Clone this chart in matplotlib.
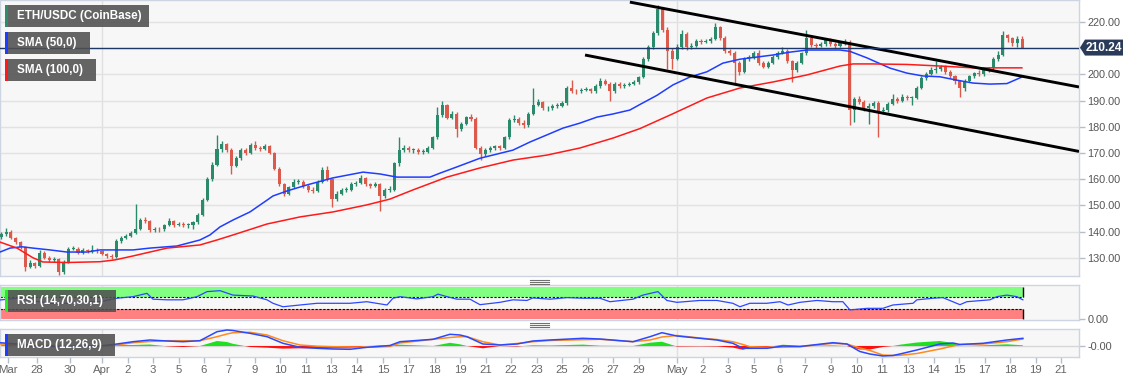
import matplotlib
matplotlib.use("Agg")
import matplotlib.pyplot as plt
from matplotlib.patches import Rectangle, Polygon
from matplotlib.lines import Line2D
import numpy as np
import pandas as pd

plt.rcParams['font.family'] = ['Liberation Sans', 'DejaVu Sans']

W, H = 1144, 383

# ---- price data, 6h candles from 2020-03-26 18:00 ----
first_open = 138.0
close = [
    139, 140, 137.5, 136, 134, 126.5, 128, 127,
    132, 130, 129, 129.5, 124.6, 128.5, 133.5, 133.5,
    132, 133, 132.5, 133, 132.5, 131.5, 130.8, 130.3,
    136.5, 137.5, 138.2, 139.5, 141, 144.5, 144, 140.6,
    141, 140.8, 142.5, 144, 142.5, 143, 142.5, 142.5,
    143.5, 146.5, 152, 160, 165.4, 171.5, 173.5, 171,
    165, 168, 171, 170, 173, 172, 171.5, 172.5,
    170, 164, 158, 154.5, 157, 159, 159, 157.5,
    156, 155.5, 159, 163.5, 160, 152.5, 154.5, 156,
    156, 158, 158.5, 160.5, 158, 157.5, 158, 153.5,
    156, 156, 166, 171, 172, 171, 171, 170.5,
    170.5, 172, 176, 184.5, 188.3, 183.5, 185, 179,
    181, 183.7, 183, 172, 169.5, 171, 172, 172.5,
    172, 176, 182.6, 183, 181.5, 180.5, 185, 188.5,
    189.5, 187, 187, 188, 188, 189, 194.8, 193.8,
    193.5, 194, 194.3, 193.5, 195.5, 197.5, 196.5, 193.5,
    196.5, 195.5, 196, 196.3, 197, 199, 206, 210.5,
    215.8, 225, 217, 209, 206, 210.5, 215.5, 210.5,
    211, 212.8, 212.5, 212.8, 213.5, 218, 214, 209,
    208.3, 204.5, 201, 206, 206.5, 208, 204.3, 203,
    204.5, 206.5, 208.3, 209, 205, 201.5, 204.3, 208,
    214, 211.3, 211, 211.5, 213, 211.5, 210.8, 212,
    212.5, 186.4, 190.5, 189.5, 187, 188, 189, 186,
    186.5, 188.8, 190.8, 190, 191.4, 191, 191, 195,
    198.8, 200.3, 201.5, 202, 202.8, 201, 199.3, 197.3,
    194.8, 197.5, 199.3, 200.5, 200, 201.5, 202.4, 206,
    207.5, 215, 213.8, 212, 213.5, 210.24,
]
high = [
    139.8, 141.4, 140.5, 138, 136.5, 134.5, 129, 128.5,
    132.8, 132.5, 130.6, 130.3, 130, 129, 134.2, 134.5,
    134, 133.6, 133.4, 135, 133.6, 133, 132, 131.3,
    137, 138.5, 139, 140.2, 150.5, 145.3, 145.6, 144.4,
    141.8, 141.7, 143, 145, 144.5, 143.8, 143.5, 143.2,
    144.2, 147, 153, 161, 166.5, 177, 174.5, 174,
    172, 169, 172, 172, 174, 174.5, 172.8, 173.5,
    173, 170.5, 164.5, 158.5, 157.5, 160, 160, 159.6,
    158.3, 157, 159.6, 164.5, 165, 160.5, 155.5, 156.8,
    157, 158.8, 159.3, 161.5, 161, 158.7, 159, 158.5,
    156.8, 157.3, 166.5, 176, 173, 172.7, 172, 171.8,
    171.5, 172.8, 176.5, 187.6, 190, 188.8, 186, 185.5,
    181.8, 184.3, 185, 183.8, 172.5, 171.8, 172.8, 173.2,
    173, 176.6, 183.5, 184.5, 183.8, 182.5, 185.6, 194.8,
    190.5, 190, 188, 188.8, 189, 189.8, 195.5, 197.8,
    194.6, 194.8, 195.3, 195, 196.2, 198.5, 198.3, 197,
    197.2, 197, 196.8, 197.2, 197.8, 199.5, 206.8, 211.2,
    216.5, 226.5, 225.5, 218, 210, 211.5, 217, 216,
    212, 213.5, 213.5, 213.6, 214.3, 219.5, 218.5, 214.5,
    209.8, 208.8, 205, 206.8, 207.3, 208.8, 209.5, 205,
    205.3, 207.3, 209, 210.5, 209.6, 205.5, 205, 208.6,
    217, 214.6, 212, 212.3, 214, 213.8, 212.3, 212.8,
    213.5, 213, 191.5, 191.8, 190.3, 189, 190, 189.8,
    187.4, 189.3, 192.5, 191.5, 192.5, 192, 191.8, 195.6,
    199.5, 201, 203, 205, 203.6, 203.4, 201.8, 199.8,
    197.8, 198.2, 199.8, 201, 201.5, 202, 203, 206.6,
    208.8, 216.5, 215.6, 214.2, 214.8, 214.5,
]
low = [
    137.3, 138.5, 137, 135.3, 133.5, 125, 126, 126.2,
    126.5, 129.5, 128.3, 128.5, 123.4, 124, 128, 132.8,
    131.5, 131.6, 131.8, 132, 131.8, 131, 130, 129.6,
    129.8, 135.8, 137, 137.8, 139, 140.5, 143.2, 140,
    139.8, 140, 140.3, 142, 141.8, 142, 141.8, 141.5,
    141, 143, 146, 151.5, 159.5, 165, 170.5, 170.2,
    162, 164.5, 167.5, 169.2, 169.5, 171.3, 170.6, 171,
    169.5, 163.5, 157.5, 153.5, 153.8, 156.5, 158, 156.8,
    155.3, 154.8, 155, 158.5, 159.3, 149.4, 151.8, 153.8,
    155.2, 155.6, 157.3, 158, 157.4, 156.8, 157, 148,
    152.8, 155, 155.5, 165, 170.5, 170.3, 170, 169.6,
    169.8, 170, 171.5, 175.5, 183.8, 182.8, 183, 176,
    178.3, 180.5, 182.2, 171.5, 167.3, 168.8, 170.3, 171.3,
    171.2, 171.5, 175.5, 181.8, 180.8, 179.5, 180, 184.5,
    187.8, 186.3, 186.2, 186.5, 187.3, 187.4, 188.5, 193,
    192.6, 192.8, 193.5, 192.8, 193, 195, 195.8, 190,
    193, 194.8, 195, 195.4, 195.8, 196.4, 198.5, 205.2,
    209.8, 215, 216.3, 202, 202, 205.4, 209.8, 209.5,
    209.6, 210.4, 211.7, 211.8, 212, 213, 213.2, 208.3,
    207.5, 196, 199.8, 200.4, 205.3, 205.8, 203.6, 202.3,
    202.5, 204, 205.9, 207.6, 204.5, 197, 200.8, 203.8,
    207.5, 210.6, 210.2, 210.3, 211, 210.8, 209.8, 210.3,
    211.3, 180.7, 182, 188.6, 186, 181, 187.3, 176,
    185, 185.8, 188.2, 189.2, 189.4, 190.2, 188.2, 190.5,
    194.6, 198, 199.7, 200.6, 201.2, 200.3, 198.6, 196.5,
    191.4, 193.8, 197, 198.8, 199.3, 199.5, 200.8, 201.8,
    205.3, 207, 212.5, 210.8, 210.5, 210,
]
last_price = 210.24

# x values below are days since 2020-04-01 00:00
sma50_days = [-5.32, -4.80, -4.17, -3.60, -2.71, -1.83, -0.78, -0.10, 1.62, 2.50,
              3.91, 5.11, 5.63, 6.16, 6.83, 7.72, 8.61, 8.92, 9.65, 10.69,
              12.05, 13.62, 14.50, 15.39, 17.11, 17.63, 18.52, 19.72, 20.61, 21.44,
              22.33, 23.21, 24.05, 24.93, 25.82, 26.66, 27.54, 28.06, 28.95, 29.79,
              30.67, 31.56, 32.39, 33.28, 35.00, 35.89, 36.78, 38.50, 39.02, 39.91,
              41.11, 41.99, 42.83, 43.71, 44.60, 45.44, 46.32, 47.21, 47.99]
sma50 = [132.2, 133.7, 134.2, 133.7, 133.0, 132.2, 132.2, 133.0, 133.0, 133.7,
         134.5, 136.8, 138.7, 141.8, 144.4, 147.5, 152.0, 153.6, 155.5, 157.8,
         160.5, 162.7, 162.0, 160.8, 160.8, 162.3, 164.7, 168.0, 169.6, 171.1,
         174.2, 176.9, 179.5, 181.4, 183.7, 184.9, 186.4, 188.5, 192.0, 196.0,
         199.0, 201.0, 204.3, 205.8, 207.4, 208.5, 209.3, 209.3, 208.8, 206.3,
         202.4, 200.5, 199.4, 199.1, 197.8, 196.7, 196.3, 196.5, 199.0]
sma100_days = [-5.32, -4.43, -3.60, -3.08, -1.83, -0.10, 0.68, 1.62, 3.39, 5.11,
               6.00, 6.83, 8.61, 10.33, 12.05, 13.82, 15.02, 16.22, 18.00, 19.72,
               21.44, 23.21, 24.93, 26.66, 28.06, 29.79, 31.56, 33.28, 35.00, 36.78,
               38.50, 39.18, 40.22, 41.99, 43.71, 45.44, 47.99]
sma100 = [136.0, 133.7, 130.0, 128.4, 128.2, 128.5, 129.2, 130.7, 133.7, 134.9,
          136.8, 138.7, 142.9, 145.6, 147.5, 150.2, 152.4, 155.9, 160.8, 164.3,
          167.3, 169.2, 171.9, 175.7, 179.3, 185.0, 191.0, 194.8, 197.1, 199.8,
          203.2, 204.0, 204.0, 203.8, 203.2, 202.5, 202.5]

upper_trend_days = [27.54, 50.97]
upper_trend = [227.6, 195.2]
lower_trend_days = [25.20, 50.97]
lower_trend = [207.4, 170.6]

rsi_days = [-5.32, -4.43, -3.60, -2.71, -1.83, -0.99, -0.10, 0.78, 1.62, 2.35,
            2.66, 3.39, 4.23, 4.96, 5.48, 6.16, 6.83, 7.88, 8.61, 8.92,
            9.44, 10.33, 11.22, 12.94, 13.82, 14.87, 15.18, 15.55, 16.43, 17.27,
            17.53, 18.00, 18.52, 19.20, 19.72, 20.76, 21.44, 22.17, 22.48, 23.37,
            24.26, 25.09, 25.98, 26.50, 27.70, 28.22, 29.00, 29.47, 29.99, 31.19,
            32.08, 32.91, 33.28, 33.80, 34.69, 35.37, 35.79, 36.41, 37.30, 38.13,
            38.65, 39.02, 39.91, 40.74, 41.26, 42.31, 42.51, 43.35, 43.87, 44.76,
            45.12, 46.32, 46.69, 47.21, 47.73, 48.04]
rsi = [59.5, 65, 57, 49, 49, 54, 54, 65, 70, 80.6,
       62, 60, 60, 70, 86, 89, 75, 72, 60, 49,
       38, 43.6, 49, 49, 54, 43.6, 65, 70, 63, 70,
       78, 70, 62, 62, 44.6, 52, 60, 58, 66, 62,
       67, 65, 65, 54, 62, 75, 86, 58, 52, 58,
       58, 49, 38, 49, 49, 54, 43.6, 52, 58, 54,
       54, 28, 33, 33, 43.6, 49, 60, 65, 67, 44.6,
       54, 60, 70, 75, 70, 60]

macd_days = [-5.32, -4.43, -3.60, -1.83, -0.10, 0.78, 1.62, 2.50, 3.39, 4.23,
             5.11, 6.00, 6.52, 6.83, 7.72, 8.61, 9.44, 10.33, 11.22, 12.05,
             12.94, 13.82, 15.02, 15.55, 17.27, 18.15, 18.68, 19.04, 19.87, 20.76,
             21.65, 22.48, 23.37, 25.09, 25.98, 27.70, 28.59, 29.21, 29.99, 31.19,
             32.08, 32.91, 33.44, 33.80, 34.69, 35.53, 36.41, 38.13, 38.86, 39.54,
             40.06, 40.74, 41.26, 41.63, 42.51, 43.71, 44.39, 44.76, 45.96, 47.21,
             48.04]
macd = [3.3, 2, 0, -0.7, 0, 2, 4.3, 6, 5, 4.3,
        5.3, 14.3, 16, 15.5, 12.7, 9.3, 2.7, -1.3, -2.3, -3,
        -3.3, -1.3, 0.5, 4.3, 6.7, 11.7, 11, 9.3, 2, 1,
        2, 5, 6, 7.7, 7, 4.3, 9.3, 13.3, 10, 7.7,
        6, 2.7, -2.3, -2.3, -2.3, 0, -0.5, 3.3, 2, -5.5,
        -8, -10, -9.5, -8, -4, 2, 3, 1.5, 2.7, 6,
        7.7]
signal = [2, 1.5, 1, 0.3, 0, 1, 3.3, 4.5, 5.3, 5.3,
          5.3, 9.3, 12, 13.3, 13.7, 11, 5.3, 1, -0.2, -0.7,
          -1, -1.3, -0.5, 3, 6.7, 8.5, 9.3, 9.3, 4.3, 1,
          2.5, 4.3, 5.5, 6.3, 6.7, 4.3, 6, 9, 10.5, 8,
          6.5, 4.3, 1.5, -0.7, -1.3, -1.3, -0.7, 2.7, 2, -2,
          -4.5, -9, -9.5, -9.3, -7.5, -3, 0, 1.5, 2, 4.3,
          7]

tick_days = [-4.90, -3.39, -1.67, 0, 1.36, 2.66, 4.02, 5.32, 6.62, 7.98,
             9.29, 10.64, 11.95, 13.30, 14.66, 16.01, 17.37, 18.68, 20.03, 21.34,
             22.69, 24.00, 25.35, 26.66, 28.01, 30.00, 31.35, 32.66, 34.01, 35.37,
             36.67, 38.03, 39.38, 40.69, 42.05, 43.40, 44.71, 46.06, 47.37, 48.72,
             50.03]
tick_labels = ['Mar', '28', '30', 'Apr', '2', '3', '5', '6', '7', '9',
               '10', '11', '13', '14', '15', '17', '18', '19', '21', '22',
               '23', '25', '26', '27', '29', 'May', '2', '3', '5', '6',
               '7', '9', '10', '11', '13', '14', '15', '17', '18', '19',
               '21']
month_days = [0, 30]
price_ticks = [130, 140, 150, 160, 170, 180, 190, 200, 210, 220]

GREEN = '#2b8a6b'
RED = '#db5a4b'
FACE = '#f7f7f7'
EDGE = '#cdd4e2'
XLIM = (-5.32, 50.97)


def fig_box(x0, y0, x1, y1):
    return [x0 / W, 1 - y1 / H, (x1 - x0) / W, (y1 - y0) / H]


def style(ax):
    ax.set_facecolor(FACE)
    for s in ax.spines.values():
        s.set_color(EDGE)
        s.set_linewidth(1)
    ax.set_xlim(*XLIM)
    ax.yaxis.tick_right()
    ax.tick_params(axis='y', length=4, width=1, color='#b5bdcc', labelsize=7.8,
                   labelcolor='#555555', pad=2)
    for d in month_days:
        ax.axvline(d, color='#e0e0e0', lw=1, zorder=0)


fig = plt.figure(figsize=(W / 100, H / 100), dpi=100)
ax = fig.add_axes(fig_box(0, 0, 1079, 276))
ax_rsi = fig.add_axes(fig_box(0, 285, 1079, 320))
ax_macd = fig.add_axes(fig_box(0, 329, 1079, 357))
for a in (ax, ax_rsi, ax_macd):
    style(a)

# ---- main price panel ----
times = pd.date_range('2020-03-26 18:00', periods=len(close), freq='6h')
days = ((times - pd.Timestamp('2020-04-01')) / pd.Timedelta(days=1)).to_numpy()
c = np.array(close)
o = np.concatenate([[first_open], c[:-1]])
cols = [GREEN if cc >= oo else RED for cc, oo in zip(c, o)]
ax.vlines(days, low, high, colors=cols, lw=1, zorder=3)
body = np.maximum(np.abs(c - o), 0.35)
ax.bar(days, body, bottom=np.minimum(c, o), width=0.16, color=cols, lw=0, zorder=3)

ax.plot(sma50_days, sma50, color='#1f3dff', lw=1.1, zorder=4)
ax.plot(sma100_days, sma100, color='#ff1a1a', lw=1.1, zorder=4)
ax.plot(upper_trend_days, upper_trend, color='black', lw=2.1, zorder=5, solid_capstyle='butt')
ax.plot(lower_trend_days, lower_trend, color='black', lw=2.1, zorder=5, solid_capstyle='butt')
ax.axhline(last_price, color='#1d3769', lw=1, zorder=6)

ax.set_ylim(123.05, 228.4)
ax.set_yticks(price_ticks)
# the 210 label sits under the last-price marker, as in the source chart
ax.set_yticklabels(['' if v == 210 else f'{v:.2f}' for v in price_ticks])
ax.grid(axis='y', color='#e2e2e2', lw=1, zorder=0)
ax.set_axisbelow(True)
ax.set_xticks([])

# ---- RSI panel ----
rsi_end = rsi_days[-1]
ax_rsi.fill_between([XLIM[0], rsi_end], 70, 100, color='#80ff80', lw=0, zorder=1)
ax_rsi.fill_between([XLIM[0], rsi_end], 0, 30, color='#ff8080', lw=0, zorder=1)
ax_rsi.hlines([70, 30], XLIM[0], rsi_end, colors='black', lw=0.8, linestyles=(0, (2, 1.5)), zorder=2)
ax_rsi.vlines([rsi_end, rsi_end], [0, 70], [30, 100], colors='black', lw=1, zorder=2)
ax_rsi.plot(rsi_days, rsi, color='#2b48ff', lw=0.9, zorder=3)
ax_rsi.set_ylim(-4, 107)
ax_rsi.set_yticks([0])
ax_rsi.set_yticklabels(['0.00'])
ax_rsi.set_xticks([])

# ---- MACD panel ----
md = np.array(macd_days)
hist = np.array(macd) - np.array(signal)
ax_macd.axhline(0, color='#d6d6d6', lw=1, zorder=1)
ax_macd.fill_between(md, 0, hist, where=hist >= 0, interpolate=True, color='#1fe01f', lw=0, zorder=2)
ax_macd.fill_between(md, 0, hist, where=hist < 0, interpolate=True, color='#ff1010', lw=0, zorder=2)
ax_macd.plot(macd_days, signal, color='#ff8a1e', lw=1.1, zorder=3)
ax_macd.plot(macd_days, macd, color='#2b48ff', lw=1.1, zorder=4)
ax_macd.set_ylim(-11, 17)
ax_macd.set_yticks([0])
ax_macd.set_yticklabels(['-0.00'])
ax_macd.set_xticks(tick_days)
ax_macd.set_xticklabels(tick_labels)
ax_macd.tick_params(axis='x', length=4, width=1, color='#b5bdcc', labelsize=8.2,
                    labelcolor='#666666', pad=2)

# ---- overlay labels ----
def label_box(x0, y0, x1, y1, text, stripe):
    fig.add_artist(Rectangle((x0 / W, 1 - y1 / H), (x1 - x0) / W, (y1 - y0) / H,
                             transform=fig.transFigure, color='#505050', alpha=0.88,
                             lw=0, zorder=20))
    fig.add_artist(Rectangle((x0 / W, 1 - y1 / H), 2.5 / W, (y1 - y0) / H,
                             transform=fig.transFigure, color=stripe, lw=0, zorder=21))
    fig.text((x0 + 12) / W, 1 - (y0 + y1) / 2 / H, text, color='white', fontsize=8.4,
             fontweight='bold', va='center', ha='left', zorder=22)


label_box(5, 5, 149, 27, 'ETH/USDC (CoinBase)', '#2e8b6e')
label_box(5, 32, 90, 54, 'SMA (50,0)', '#1f3dff')
label_box(5, 59, 96, 81, 'SMA (100,0)', '#ff1a1a')
label_box(5, 290, 116, 312, 'RSI (14,70,30,1)', '#22ee22')
label_box(5, 334, 115, 356, 'MACD (12,26,9)', '#1f3dff')

# last price marker
yl = 22 + (220 - last_price) * 2.62
pts = [(1080, yl), (1085, yl - 8), (1123, yl - 8), (1123, yl + 8), (1085, yl + 8)]
fig.add_artist(Polygon([(x / W, 1 - y / H) for x, y in pts], closed=True,
                       transform=fig.transFigure, color='#2a3b5a', lw=0, zorder=20))
fig.text(1104 / W, 1 - yl / H, f'{last_price:.2f}', color='white', fontsize=8.6,
         fontweight='bold', ha='center', va='center', zorder=22)

# panel grips
for yy in (280, 282, 284, 323, 325, 327):
    fig.add_artist(Line2D([530 / W, 549 / W], [1 - yy / H, 1 - yy / H],
                          transform=fig.transFigure, color='#707070', lw=0.8))

fig.savefig('out.png', dpi=100, facecolor='white')
